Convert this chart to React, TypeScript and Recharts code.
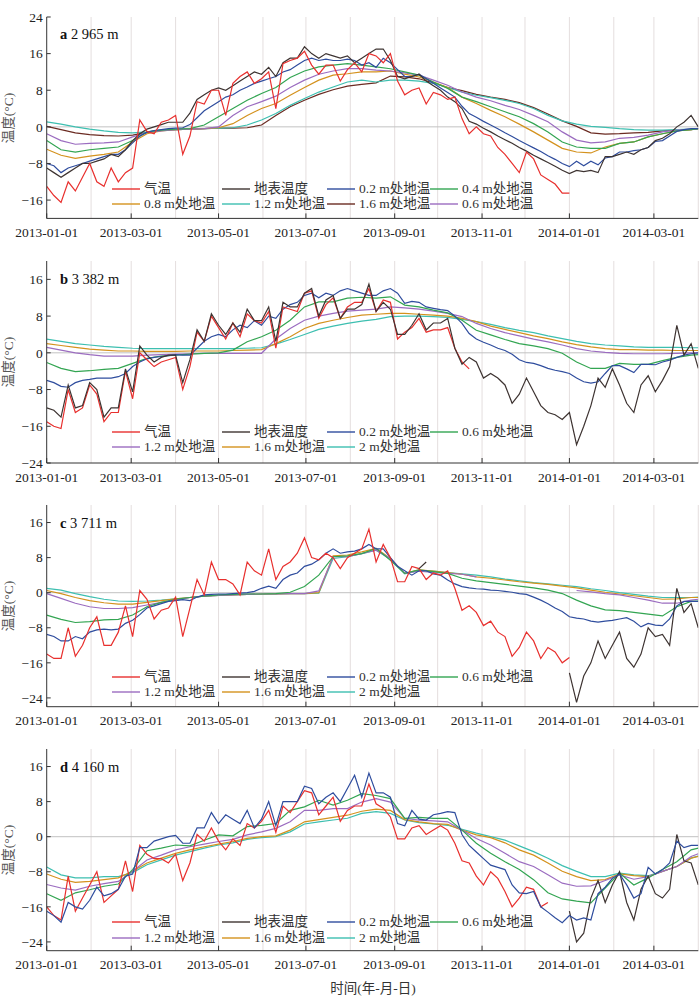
import React from 'react';
import { LineChart, Line, XAxis, YAxis, ReferenceLine } from 'recharts';

const FONT = "'Liberation Serif','Noto Sans CJK SC',serif";
const END = 455; // 2014-04-01, days since 2013-01-01
const NOISY = 5; // days between readings of daily (noisy) series
const SMOOTH = 10; // days between readings of smooth deep-soil series

const TICK_DAYS = [0, 59, 120, 181, 243, 304, 365, 424];
const TICK_LABELS = ['2013-01-01', '2013-03-01', '2013-05-01', '2013-07-01', '2013-09-01', '2013-11-01', '2014-01-01', '2014-03-01'];
const MONTH_DAYS = [31, 59, 90, 120, 151, 181, 212, 243, 273, 304, 334, 365, 396, 424, 455];

const COL = {
  air: '#e8302e', surf: '#3e3432', d02: '#2f4d9e', green: '#33a552',
  purple: '#9b6cc0', orange: '#d4921e', teal: '#3dbfb0', brown: '#6b2b22',
};

// ---------- Panel a (2 965 m) ----------
const aAir = [-13,-15,-16.5,-12,-14,-11,-8,-12,-13,-9,
  -12,-10,-9,1.5,-1,-1.5,1,1.5,2.5,-6,
  -2,5.5,5,8,8,2.5,9.5,11,12,9.5,
  10.5,12,4,13.8,14.5,15,16.5,13.5,11.5,13.5,
  13.5,10,12.5,14,12,16,15.5,14,16,10,
  7,8,8.5,5,7.5,7,6,6.5,1.8,-1.5,
  0,-1.5,-2,-4.5,-6,-8,-10,-5.5,-7,-10.5,
  -11.5,-12.5,-14.5,-14.5];
const aSurf = [-9,-10,-11,-10,-9,-8,-8,-7.5,-7,-6,
  -6.5,-5,-3,-1.5,-0.5,0,0.5,1,1,1,
  3,6,7,8,8.5,8,9,10,11,12,
  11.5,13,11,14,15,15,17.5,16,15,16,
  15.5,15,15.5,14,15,16,17,17,14.5,11,
  10.5,11,11.5,10,9,8,6.5,5.5,4,1.2,
  0.6,-0.3,-1.1,-2,-2.8,-3.6,-4.5,-5.3,-6.2,-7,
  -7.8,-8.6,-9.5,-10.2,-9.5,-9.8,-9.5,-10,-6.5,-6.5,
  -6,-5.5,-6,-5,-4.5,-3,-2.5,-1.5,0,1,
  2.5,0];
const aD02 = [-8,-8.5,-10,-9,-8.5,-8,-7.5,-7,-6.5,-6,
  -6,-5,-3.5,-2,-1.2,-0.8,-0.6,-0.4,-0.3,-0.2,
  0.5,2,3.5,4.5,5.5,6.5,7,8,8.7,9.5,
  10,10.5,11,12,12.5,13.5,14.5,15,14.5,14.8,
  14.5,14.5,14.8,14.5,13.5,14,13,15,14,12.5,
  11,11,11.5,10.5,9.5,8.5,7.5,6.5,4.5,2.9,
  2.1,1.2,0.4,-0.4,-1.3,-2.1,-3,-3.8,-4.6,-5.4,
  -6.3,-7.1,-8,-8.7,-7.5,-8.5,-7.5,-8.3,-6.8,-6.5,
  -5.5,-5.5,-5.2,-5,-4.5,-3.2,-3,-2,-1,-0.6,
  -0.4,-0.4];
const aD04 = [-3,-5,-5.5,-5,-4.7,-4.4,-3,-1.1,-0.7,-0.5,-0.4,0.4,2.2,4,5.8,7.3,8.6,10.8,12.2,13.1,13.5,13.8,13.5,13.1,12.7,12,11.3,9.8,8.4,6.5,5.5,4.4,3.3,2.2,0.7,-1.1,-3.3,-4.4,-4.7,-4.7,-3.6,-3.3,-2.2,-1.5,-0.9,-0.6,-0.4];
const aD06 = [-1.5,-3,-3.8,-3.6,-3.5,-3.3,-2.2,-1.2,-0.9,-0.6,-0.5,-0.4,0,2.5,4.4,5.5,6.7,8.6,10.2,11.5,12.2,12.7,12.7,12.4,12.2,11.8,11.3,10.2,9.1,7.6,6.5,5.7,4.7,3.8,2.5,1.1,-1.1,-2.9,-3.5,-3.3,-2.5,-2.3,-1.8,-1.1,-0.7,-0.5,-0.4];
const aD08 = [-4.9,-6.2,-6.9,-6.4,-6,-5.5,-3.3,-1.5,-0.9,-0.6,-0.5,-0.4,-0.2,0.7,2.5,4,5.1,6.9,8.6,10.2,11.3,11.6,12,12,12.2,11.5,10.9,9.8,8.6,6.5,5.1,3.6,2.2,0.6,-1.1,-2.9,-4.7,-5.5,-5.7,-4.4,-3.6,-3.3,-2.2,-1.5,-0.9,-0.6,-0.4];
const aD12 = [1.1,0.6,0,-0.5,-0.9,-1.2,-1.3,-1.1,-0.7,-0.6,-0.5,-0.4,-0.3,-0.2,0.4,1.5,2.9,4.7,6.2,7.6,8.7,9.8,10.2,9.8,10.2,10.2,10,9.5,8.6,7.6,6.9,6.4,5.8,5.1,4,2.5,1.3,0.6,0.1,-0.1,-0.4,-0.6,-0.7,-0.7,-0.6,-0.5,-0.4];
const aD16 = [0.1,-0.6,-1.3,-1.7,-1.9,-2,-1.8,-1.2,-0.8,-0.6,-0.5,-0.4,-0.3,-0.3,-0.2,0.4,2.5,4.4,5.8,7.1,8.1,8.9,9.3,9.6,11.1,10.9,10.5,9.6,8.6,7.9,7.1,6.5,6,5.3,4.2,2.8,1.3,0.1,-1.3,-1.6,-1.5,-1.3,-1.2,-0.9,-0.7,-0.6,-0.4];

// ---------- Panel b (3 382 m) ----------
const bAir = [-15,-16,-16.5,-8,-13,-12,-7,-9,-15,-13,
  -13,-4,-10,0,-1.5,-3,-2,-1.5,-1,-8,
  -3,4.5,2.5,8,5.5,3,6.5,3.5,8.5,7,
  6.5,9,1,10,9.5,9,13,13.5,7.5,10.5,
  12,7.5,10,11,11,14,9,11.5,11,3,
  4.5,5.5,7.5,4.5,5,5,5.5,1,-2,-3.5];
const bSurf = [-12,-12.5,-14,-7,-12,-11.5,-6.5,-8,-14,-12,
  -12,-3.5,-8.5,1.5,-0.5,-2,-1,-0.5,-0.5,-6.5,
  -1.5,5,2.5,8.5,6,4,6.5,4.5,9.5,7,
  7,10,2.5,11,10,10,13,14,8,11.5,
  12.5,7.5,9.5,9.5,10.5,15,9,11,9.5,4,
  4,6,8.5,5,6.5,6.5,7.5,1,-2.5,-1,
  -2,-5.5,-4.5,-5.5,-7,-11,-9,-5.5,-8.5,-11.5,
  -13,-13.5,-14.5,-13,-20,-16,-11.5,-5.5,-7.5,-3.5,
  -7,-11,-13,-7,-5,-8.5,-6,-3,6,-0.5,
  2,-3.4];
const bD02 = [-6,-6.5,-7.3,-7.5,-6.5,-6,-5.8,-5.5,-5.5,-5.5,
  -5.2,-4.5,-3,-2,-1.3,-1,-0.8,-0.6,-0.4,-0.5,
  -0.5,1,2.5,3.5,4,3.5,5,6,5.5,7,
  6,8,7.5,9.5,10.5,11,12.5,13,12,13,
  12.5,13.5,14,13.5,13,12.5,12.5,13.5,14,13,
  10.8,11.2,11,10,9.7,9.4,9.2,8,6.4,4.2,
  3,2.3,1.7,1,0.5,-0.3,-1.5,-2.1,-2.3,-2.8,
  -3.4,-3.8,-4.1,-4.5,-5.5,-6.3,-6.6,-6.3,-4.5,-2.8,
  -2.8,-3.5,-4.3,-2.5,-2.5,-2.6,-2,-1.6,-1,-0.5,
  -0.2,0];
const bD06 = [-2.1,-3.4,-4.1,-3.9,-3.6,-3.4,-2.3,-1.2,-0.7,-0.5,-0.3,-0.1,0,0.6,2.4,3.5,4.9,7.1,10,11.1,11.1,11.9,12.1,11.9,12.2,10.4,10,9.3,8.7,7.1,4.9,3.9,2.9,2,1.5,0.9,-0.1,-2,-3.4,-3.4,-2.3,-2.5,-2.5,-1.7,-1,-0.5,-0.4];
const bD12 = [1.2,0.6,0,-0.4,-0.7,-0.7,-0.7,-0.5,-0.4,-0.3,-0.2,-0.1,-0.1,-0.1,-0.1,-0.1,3,5.3,7.1,8,8.6,9.1,9.3,9.5,10,9.8,9.5,9.1,8.6,7.9,6.4,5.3,4.4,3.7,3,2.4,1.7,0.9,0.4,0.1,-0.1,-0.2,-0.2,-0.2,-0.1,0,0];
const bD16 = [2,1.6,1.2,0.8,0.6,0.4,0.4,0.3,0.3,0.3,0.4,0.4,0.4,0.5,0.6,0.7,2,3.5,5.3,6.4,7.1,7.7,8.2,8.4,8.6,8.6,8.4,8.2,8,7.5,6.8,5.8,5.1,4.4,3.7,3.1,2.4,1.8,1.3,0.9,0.7,0.7,0.6,0.6,0.5,0.5,0.5];
const bD20 = [3,2.5,2,1.7,1.4,1.2,1,0.9,0.9,0.9,0.9,0.9,0.9,0.9,1,1.1,1.9,2.9,4,5.1,5.8,6.4,6.9,7.3,7.9,8,8,7.9,7.7,7.3,6.8,6.2,5.5,4.9,4.4,3.7,3.1,2.5,2,1.7,1.5,1.3,1.2,1.2,1.2,1.1,1.1];

// ---------- Panel c (3 711 m) ----------
const cAir = [-14,-15,-15,-8,-14.5,-12,-8,-5.5,-12,-12,
  -9,-3,-10,0.5,-1.5,-6,-4,-3.5,-1,-10,
  -3.5,3,-0.5,7,3,3,2,-0.5,7,5,
  4,10,3,6,7,9,12.5,8,7.5,9,
  8,5.5,8,9,10,14.5,7,11,8,2.5,
  2.5,6,5.5,3,4.5,4,5,1,-4,-3,
  -4.5,-7.5,-6.5,-9,-10,-14.5,-12.5,-9,-11,-15,
  -12.5,-13.5,-16,-14.8];
const cSurfAutumn = [5.5, 7];
const cSurfWinter = [-18.3,-25,-19,-16,-11,-15,-12,
  -9,-15,-17,-14,-8,-10,-9.5,-12,1,-4.5,
  -2.5,-8];
const cD02 = [-9.5,-10,-11,-11,-10,-10.5,-9,-8.5,-8.3,-8.5,
  -8.3,-7,-6.3,-5,-3.5,-3,-2.5,-2,-1.8,-1.6,
  -1.8,-1,-0.5,-0.4,-0.3,-0.3,-0.2,-0.1,0,0.3,
  1,1.5,1,3,4,4.5,6,6.5,7.5,9,
  10,9,9.3,9.5,10,11,10,10,8,6,
  5,4,5,5,4.3,4,2.9,2,1.4,1.1,
  0.9,0.8,0.6,0.5,0.3,0.1,-0.2,-0.4,-1,-1.7,
  -2.5,-3.5,-4.3,-5.5,-5.8,-6,-6.5,-6.7,-6.5,-6.3,
  -6,-5.7,-6.5,-7.8,-7,-7.4,-7.5,-6,-3,-2,
  -2,-2];
const cD06 = [-5.1,-6.1,-6.8,-6.6,-6.2,-6.1,-5.1,-3.2,-2.2,-1.5,-1.1,-0.8,-0.5,-0.4,-0.3,-0.3,-0.2,0.1,1.4,4,8.2,8.4,8.9,10.1,7.4,4.4,5.2,4.8,4.4,3.3,2.7,2.3,1.9,1.5,1.1,0.6,-0.2,-1.7,-3,-3.9,-4.1,-4.5,-4.9,-5.3,-3.2,-2,-1.9];
const cD12 = [-0.2,-1.3,-2.4,-3.2,-3.6,-3.6,-3.4,-2.8,-2.2,-1.7,-1.1,-0.8,-0.6,-0.5,-0.4,-0.3,-0.3,-0.2,-0.2,0.4,8.2,8.2,8.9,9.7,7.8,4.4,4.9,4.6,4.4,4.2,3.6,null,null,null,null,null,null,0.5,0.2,-0.2,-0.5,-1.1,-1.7,-2.4,-2.4,-1.7,-1.5];
const cD16 = [0.5,-0.2,-1.1,-1.8,-2.3,-2.6,-2.6,-2.2,-1.8,-1.4,-1.1,-0.8,-0.6,-0.5,-0.4,-0.3,-0.3,-0.2,-0.2,0,8.4,8.6,9.3,10.1,7.8,4.4,5.2,4.9,4.6,4.2,3.6,3.3,2.9,2.5,2.2,1.9,1.5,1.1,0.6,0.1,-0.3,-0.7,-1.1,-1.5,-1.4,-1.1,-1.1];
const cD20 = [1,0.6,-0.2,-0.9,-1.5,-1.9,-2,-1.9,-1.7,-1.4,-1.1,-0.8,-0.6,-0.5,-0.4,-0.3,-0.3,-0.2,-0.2,-0.1,7.8,8.2,8.9,9.7,7.6,4.3,5.1,4.9,4.6,4.3,4,3.6,3.1,2.7,2.3,2,1.7,1.4,0.9,0.5,0,-0.4,-0.8,-1.1,-1.1,-1.1,-1];

// ---------- Panel d (4 160 m) ----------
const dAir = [-16,-18,-19,-9,-17,-14,-11,-8,-15,-13.5,
  -12,-5.5,-12.5,-2,-4,-5,-5,-6,-4,-10,
  -6,0.5,-1,2,-1,-3,-0.5,-2,3,2,
  3.5,6,1,7,5.5,8,10.5,10,5,7,
  9,3.5,6,7,7,12,7.5,6.5,4.5,-0.5,
  -0.5,2,2.5,0.5,1.5,2.5,1.5,-1.5,-5.5,-6,
  -9,-11,-8,-9.5,-12.5,-16,-14,-11.5,-12,-16,
  -15];
const dSurfWinter = [-17,-24,-22,-14,-10,-15,-11,-8,-15,-19,-12,-9,-13,-14,-12,0.5,-5.5,-6,-11];
const dD02 = [-17,-18,-19.5,-15,-16,-16.5,-14.5,-11.5,-13.5,-13,
  -12,-9,-8.5,-2.5,-2.5,-1,-0.5,0,0.3,-1.5,
  -1.5,2,2,5.5,3,5,4,3,6,2,
  4,8,2.5,8,8,8,11.5,11,7.5,9,
  10,8,11,14,9,14.5,10,10,9,3,
  2.5,6,4,3.8,5,5.3,5.7,5.5,0.5,-2,
  -3.5,-5,-6.5,-7,-7.5,-11,-12.8,-13,-12.5,-16,
  -17.2,-18.5,-19.6,-18,-19,-18.5,-19,-13,-11.5,-9.5,
  -8.5,-11,-14,-13,-7,-8.5,-7.5,-6,-1,-2.5,
  -2,-2];
const dD06 = [-13,-14.5,-12.8,-12.1,-11.3,-10.8,-7.5,-3.2,-2.6,-1.9,-2.1,-0.8,0.4,0.2,2.3,2.6,3,6,6.8,8.3,7.2,8.3,9.8,9.4,8.7,4.2,4.4,4.2,4.2,1.5,-1.5,-3.8,-5.7,-7.5,-9.8,-12.8,-14.2,-14.7,-15.1,-11.7,-8.3,-11,-9.4,-7.5,-5.7,-3,-2.6];
const dD12 = [-10.9,-11.7,-12.2,-11.3,-10.7,-10.2,-7.9,-5.3,-4.2,-3,-2.3,-1.7,-1.1,-0.6,0.4,1.1,1.9,3.4,6,6,6.4,6.4,7.9,8.7,7.9,4.2,3.8,3.6,3.4,1.5,-0.4,-1.9,-3.8,-5.7,-6.8,-8.7,-10.6,-11.3,-11.2,-10,-8.7,-9.7,-9.1,-7.9,-6.8,-4.5,-3.9];
const dD16 = [-8.5,-9.7,-10.4,-10.2,-9.8,-9.4,-7.9,-6,-4.9,-3.8,-3,-2.3,-1.7,-1.1,-0.4,0,0.2,1.5,3.4,3.9,4.4,4.9,5.8,6.3,6,3.9,3.4,3,2.8,1.5,0.4,-0.2,-1.4,-3,-4.2,-6,-7.9,-9.1,-10,-9.8,-8.5,-8.9,-9.1,-7.9,-6.8,-4.9,-4.5];
const dD20 = [-6.9,-8.7,-9.4,-9.4,-9.1,-9.1,-8.2,-6.4,-5.3,-4.2,-3.4,-2.6,-1.9,-1.4,-0.6,-0.2,0,1.1,2.9,3.4,3.8,4.2,5.3,5.7,5.3,3.8,3.2,2.9,2.6,1.7,0.8,0,-0.8,-2.1,-3.4,-4.9,-6.6,-7.9,-9.1,-9.1,-8.3,-8.7,-8.9,-7.9,-6.8,-4.9,-4.4];

type Pt = { d: number; v: number | null };
const rows = (vals: (number | null)[], step: number, start = 0): Pt[] =>
  vals.map((v, i) => ({ d: Math.min((start + i) * step, END), v }));

type Series = { color: string; data: Pt[] };
type LegendItem = [string, string];

type PanelDef = {
  letter: string; elev: string; top: number; h: number; domain: [number, number]; yticks: number[];
  labelY: number; legendY: [number, number]; legend: LegendItem[][]; series: Series[];
};

const L_AIR: LegendItem = ['气温', COL.air];
const L_SURF: LegendItem = ['地表温度', COL.surf];
const L_02: LegendItem = ['0.2 m处地温', COL.d02];

const PANELS: PanelDef[] = [
  {
    letter: 'a', elev: '2 965 m', top: 17.3, h: 201.4, domain: [-20, 24], yticks: [-16, -8, 0, 8, 16, 24],
    labelY: 34.3, legendY: [189, 204],
    legend: [
      [L_AIR, L_SURF, L_02, ['0.4 m处地温', COL.green]],
      [['0.8 m处地温', COL.orange], ['1.2 m处地温', COL.teal], ['1.6 m处地温', COL.brown], ['0.6 m处地温', COL.purple]],
    ],
    series: [
      { color: COL.brown, data: rows(aD16, SMOOTH) },
      { color: COL.teal, data: rows(aD12, SMOOTH) },
      { color: COL.orange, data: rows(aD08, SMOOTH) },
      { color: COL.purple, data: rows(aD06, SMOOTH) },
      { color: COL.green, data: rows(aD04, SMOOTH) },
      { color: COL.d02, data: rows(aD02, NOISY) },
      { color: COL.surf, data: rows(aSurf, NOISY) },
      { color: COL.air, data: rows(aAir, NOISY) },
    ],
  },
  {
    letter: 'b', elev: '3 382 m', top: 260.7, h: 202, domain: [-24, 20], yticks: [-24, -16, -8, 0, 8, 16],
    labelY: 279.3, legendY: [432, 447],
    legend: [
      [L_AIR, L_SURF, L_02, ['0.6 m处地温', COL.green]],
      [['1.2 m处地温', COL.purple], ['1.6 m处地温', COL.orange], ['2 m处地温', COL.teal]],
    ],
    series: [
      { color: COL.teal, data: rows(bD20, SMOOTH) },
      { color: COL.orange, data: rows(bD16, SMOOTH) },
      { color: COL.purple, data: rows(bD12, SMOOTH) },
      { color: COL.green, data: rows(bD06, SMOOTH) },
      { color: COL.d02, data: rows(bD02, NOISY) },
      { color: COL.air, data: rows(bAir, NOISY) },
      { color: COL.surf, data: rows(bSurf, NOISY) },
    ],
  },
  {
    letter: 'c', elev: '3 711 m', top: 505, h: 201.7, domain: [-26, 20], yticks: [-24, -16, -8, 0, 8, 16],
    labelY: 523.3, legendY: [677, 692],
    legend: [
      [L_AIR, L_SURF, L_02, ['0.6 m处地温', COL.green]],
      [['1.2 m处地温', COL.purple], ['1.6 m处地温', COL.orange], ['2 m处地温', COL.teal]],
    ],
    series: [
      { color: COL.teal, data: rows(cD20, SMOOTH) },
      { color: COL.orange, data: rows(cD16, SMOOTH) },
      { color: COL.purple, data: rows(cD12, SMOOTH) },
      { color: COL.green, data: rows(cD06, SMOOTH) },
      { color: COL.d02, data: rows(cD02, NOISY) },
      { color: COL.air, data: rows(cAir, NOISY) },
      { color: COL.surf, data: [...rows(cSurfAutumn, NOISY, 52), { d: 300, v: null }, ...rows(cSurfWinter, NOISY, 73)] },
    ],
  },
  {
    letter: 'd', elev: '4 160 m', top: 749, h: 201.7, domain: [-26, 20], yticks: [-24, -16, -8, 0, 8, 16],
    labelY: 766.7, legendY: [922, 938],
    legend: [
      [L_AIR, L_SURF, L_02, ['0.6 m处地温', COL.green]],
      [['1.2 m处地温', COL.purple], ['1.6 m处地温', COL.orange], ['2 m处地温', COL.teal]],
    ],
    series: [
      { color: COL.teal, data: rows(dD20, SMOOTH) },
      { color: COL.orange, data: rows(dD16, SMOOTH) },
      { color: COL.purple, data: rows(dD12, SMOOTH) },
      { color: COL.green, data: rows(dD06, SMOOTH) },
      { color: COL.air, data: rows(dAir, NOISY) },
      { color: COL.surf, data: rows(dSurfWinter, NOISY, 73) },
      { color: COL.d02, data: rows(dD02, NOISY) },
    ],
  },
];

const LEGEND_X = [112, 222, 327, 430];
const PLOT_LEFT = 46.7;
const TOP_PAD = 10;
const XAXIS_H = 30;

const XTick = (props: any) => {
  const { x, y, payload } = props;
  const idx = TICK_DAYS.indexOf(payload.value);
  return (
    <g>
      <line x1={x} x2={x} y1={y} y2={y - 5} stroke="#333" strokeWidth={1} />
      <text x={x} y={y + 18.5} textAnchor="middle" fontSize={13.5} fill="#222" fontFamily={FONT}>
        {idx >= 0 ? TICK_LABELS[idx] : ''}
      </text>
    </g>
  );
};

const YTick = (props: any) => {
  const { x, y, payload } = props;
  const v = payload.value as number;
  const label = v < 0 ? `\u2212${Math.abs(v)}` : `${v}`;
  return (
    <g>
      <line x1={x} x2={x + 4} y1={y} y2={y} stroke="#333" strokeWidth={1} />
      <text x={x - 4} y={y + 4.7} textAnchor="end" fontSize={13.5} fill="#222" fontFamily={FONT}>
        {label}
      </text>
    </g>
  );
};

const txt: React.CSSProperties = {
  position: 'absolute', fontFamily: FONT, fontSize: 13.5, lineHeight: 1, whiteSpace: 'nowrap',
  color: '#333', transform: 'translateY(-50%)',
};

function Panel({ p }: { p: PanelDef }) {
  const chartTop = p.top - TOP_PAD;
  const H = TOP_PAD + p.h + XAXIS_H;
  return (
    <>
      <div style={{ position: 'absolute', left: 0, top: chartTop, width: 700, height: H }}>
        <LineChart width={700} height={H} margin={{ top: TOP_PAD, right: 1.7, bottom: 0, left: 0 }}>
          <XAxis
            type="number" dataKey="d" domain={[0, END]} ticks={TICK_DAYS} interval={0}
            tick={XTick} tickLine={false} tickSize={0} tickMargin={0} height={XAXIS_H}
            axisLine={{ stroke: '#333', strokeWidth: 1 }} allowDataOverflow
          />
          <YAxis
            type="number" domain={p.domain} ticks={p.yticks} interval={0}
            tick={YTick} tickLine={false} tickSize={0} tickMargin={0} width={PLOT_LEFT}
            axisLine={{ stroke: '#333', strokeWidth: 1 }} allowDataOverflow
          />
          {MONTH_DAYS.map((d) => (
            <ReferenceLine key={d} x={d} stroke="#e4dede" strokeWidth={1} />
          ))}
          <ReferenceLine y={0} stroke="#c2c2c2" strokeWidth={1} />
          {p.series.map((s, i) => (
            <Line
              key={i} data={s.data} dataKey="v" type="linear" stroke={s.color} strokeWidth={1.2}
              dot={false} activeDot={false} isAnimationActive={false} connectNulls={false}
            />
          ))}
        </LineChart>
      </div>
      <div style={{ ...txt, left: 60, top: p.labelY, fontSize: 14.5, color: '#111' }}>
        <b>{p.letter}</b> {p.elev}
      </div>
      <div
        style={{
          position: 'absolute', left: 9, top: p.top + p.h / 2, fontFamily: FONT, fontSize: 13.5,
          lineHeight: 1, whiteSpace: 'nowrap', color: '#555',
          transform: 'translate(-50%, -50%) rotate(-90deg)',
        }}
      >
        温度(°C)
      </div>
      {p.legend.map((row, r) =>
        row.map(([label, color], c) => (
          <React.Fragment key={`${r}-${c}`}>
            <svg
              width={28} height={4}
              style={{ position: 'absolute', left: LEGEND_X[c], top: p.legendY[r] - 2, overflow: 'visible' }}
            >
              <line x1={0} x2={28} y1={2} y2={2} stroke={color} strokeWidth={1.4} />
            </svg>
            <div style={{ ...txt, left: LEGEND_X[c] + 32, top: p.legendY[r] }}>{label}</div>
          </React.Fragment>
        )),
      )}
    </>
  );
}

export default function App() {
  return (
    <div style={{ position: 'relative', width: 700, height: 997, background: '#fff', overflow: 'hidden' }}>
      <style>{'body{margin:0;}'}</style>
      {PANELS.map((p) => (
        <Panel key={p.letter} p={p} />
      ))}
      <div style={{ ...txt, left: 373, top: 989, transform: 'translate(-50%, -50%)', color: '#333' }}>
        时间(年-月-日)
      </div>
    </div>
  );
}
